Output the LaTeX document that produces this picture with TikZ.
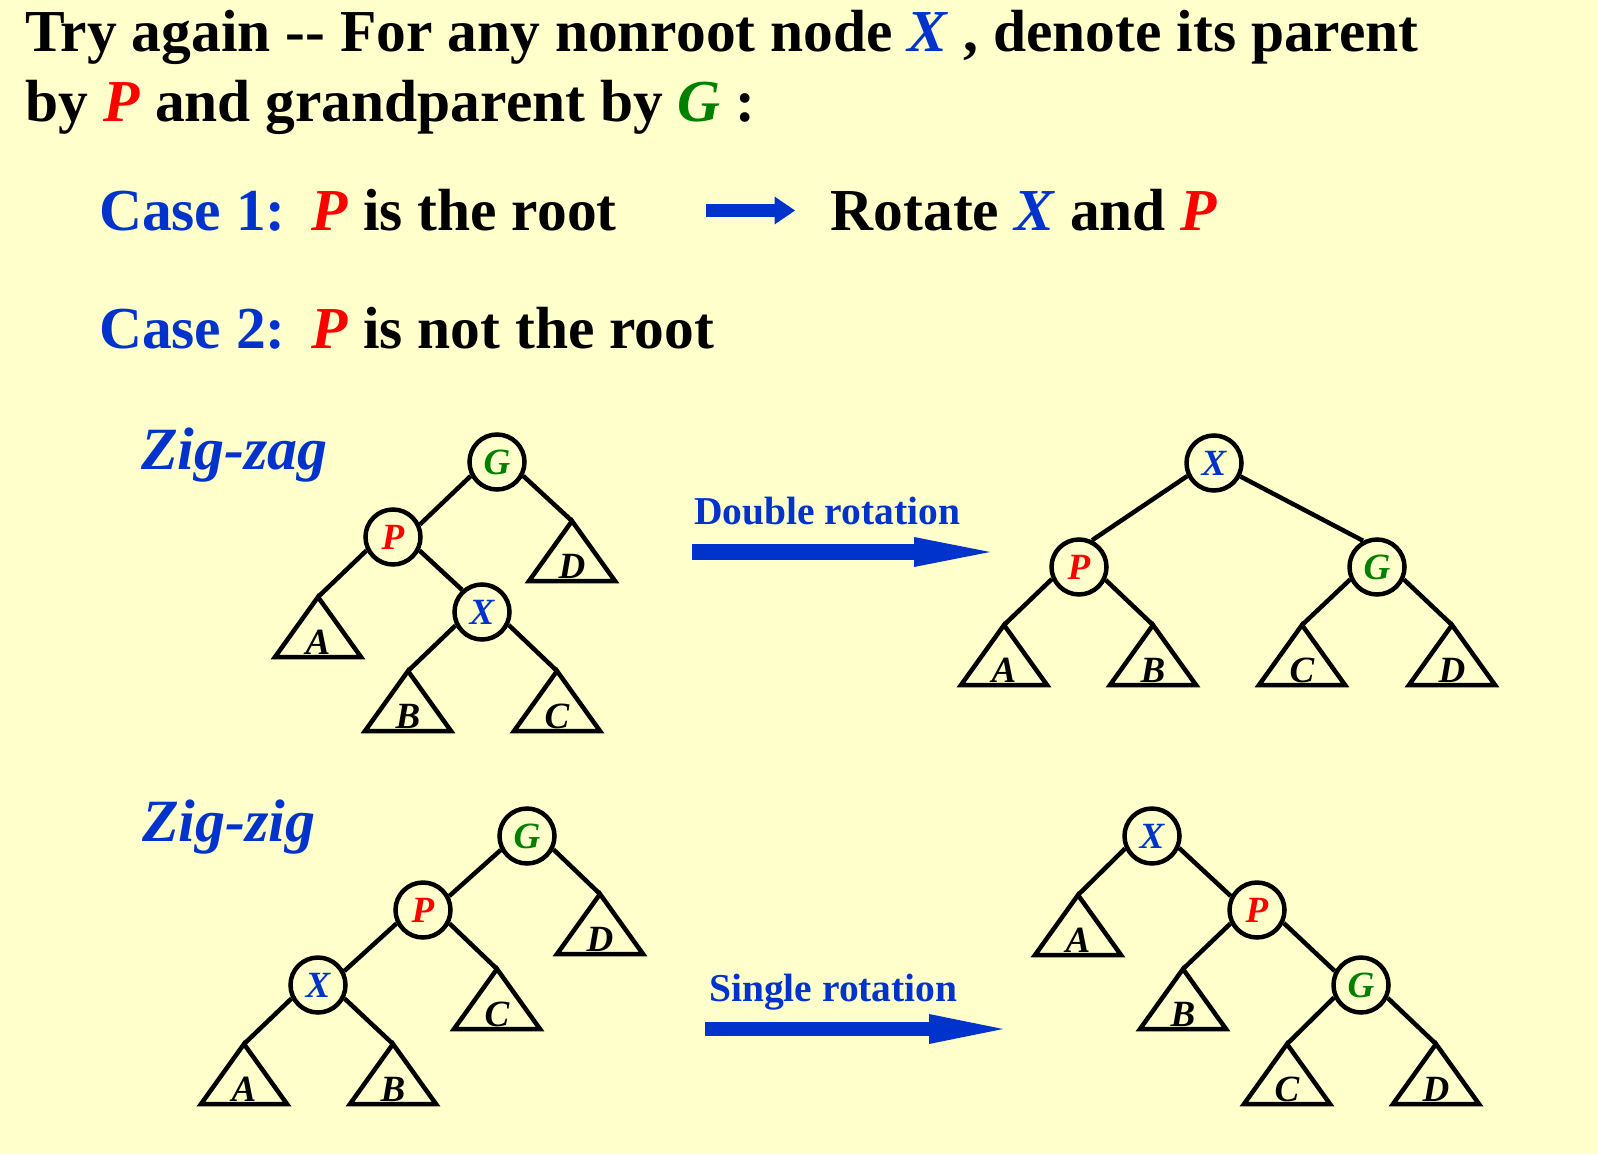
\documentclass[tikz,border=0pt]{standalone}
\usepackage{fontspec}
\setmainfont{Liberation Serif}
\usetikzlibrary{arrows.meta}

\definecolor{bgyellow}{RGB}{255,255,204}
\definecolor{xblue}{RGB}{0,51,204}
\definecolor{pred}{RGB}{255,0,0}
\definecolor{ggreen}{RGB}{0,128,0}

\newcommand{\lX}{\textcolor{xblue}{\textit{X}}}
\newcommand{\lP}{\textcolor{pred}{\textit{P}}}
\newcommand{\lG}{\textcolor{ggreen}{\textit{G}}}

\begin{document}
\begin{tikzpicture}[x=1pt,y=-1pt,
    txt/.style={anchor=base west,inner sep=0pt,font=\fontsize{59.5}{60}\selectfont\bfseries},
    side/.style={txt,text=xblue,font=\fontsize{60}{60}\selectfont\bfseries\itshape},
    rot/.style={anchor=base west,inner sep=0pt,text=xblue,font=\fontsize{39.5}{40}\selectfont\bfseries},
    vert/.style={circle,draw,line width=4.5pt,minimum size=55pt,inner sep=0pt,
                 font=\fontsize{37}{37}\selectfont\bfseries\itshape},
    leaf/.style={anchor=base,inner sep=0pt,font=\fontsize{37}{37}\selectfont\bfseries\itshape},
    tri/.style={draw,line width=4.5pt,line join=miter},
    br/.style={line width=4.5pt},
    flow/.style={xblue,-{Triangle[length=#1,width=30pt,line width=0pt]}}]

    \useasboundingbox (0,0) rectangle (1598,1154);
    \fill[bgyellow] (0,0) rectangle (1598,1154);

    % heading
    \node[txt] (l1) at (25.5,51.7) {Try again -{}- For any nonroot node \lX{} , denote its parent};
    \node[txt] (l2) at (25.5,121.7) {by \lP{} and grandparent by \lG{} :};

    \node[txt,text=xblue] (c1) at (98.9,230) {Case 1:};
    \node[txt] (c1t) at (311.5,230) {\lP{} is the root};
    \node[txt] (rotxp) at (830.7,230) {Rotate \lX{} and \lP};
    \coordinate (a1s) at (706,210.5);
    \coordinate (a1e) at (795,210.5);
    \draw[xblue,line width=12.7pt,-{Triangle[length=20.5pt,width=28pt,line width=0pt]}] (a1s) -- (a1e);

    \node[txt,text=xblue] (c2) at (98.9,348.3) {Case 2:};
    \node[txt] (c2t) at (311.5,348.3) {\lP{} is not the root};

    \node[side] (zz) at (141,469) {Zig-zag};
    \node[side] (zi) at (142,841.5) {Zig-zig};

    % subtrees
    \foreach \n/\x/\y/\l in {A1/318/597/A, B1/408/671/B, C1/557/671/C, D1/572/521/D,
                             A2/1004/625/A, B2/1153/625/B, C2/1302/625/C, D2/1452/625/D,
                             A3/244/1044/A, B3/393/1044/B, C3/497/969/C, D3/600/894/D,
                             A4/1078/895/A, B4/1183/969/B, C4/1287/1044/C, D4/1436/1044/D}{
        \coordinate (\n) at (\x,\y);
        \draw[tri] (\n) -- ++(-43,60) -- ++(86,0) -- cycle;
        \path (\n) ++(0,57.5) node[leaf] {\l};
    }

    % zig-zag
    \node[vert] (G1) at (497,462) {\color{ggreen}G};
    \node[vert] (P1) at (393,537) {\color{pred}P};
    \node[vert] (X1) at (482,612) {\color{xblue}X};
    \path[br]
    (G1.208) edge (P1.25)
    (G1.332) edge (D1)
    (P1.207) edge (A1)
    (P1.333) edge (X1.132)
    (X1.207) edge (B1)
    (X1.334) edge (C1);

    \node[rot] (dbl) at (694,524) {Double rotation};
    \coordinate (a2s) at (692,552);
    \coordinate (a2e) at (990,552);
    \draw[flow=76pt,line width=16pt] (a2s) -- (a2e);

    \node[vert] (X2) at (1214,463) {\color{xblue}X};
    \node[vert] (P2) at (1079,567) {\color{pred}P};
    \node[vert] (G2) at (1377,567) {\color{ggreen}G};
    \path[br]
    (X2.206) edge (P2.64)
    (X2.333) edge (G2.118)
    (P2.204) edge (A2)
    (P2.334) edge (B2)
    (G2.205) edge (C2)
    (G2.335) edge (D2);

    % zig-zig
    \node[vert] (G3) at (527,836) {\color{ggreen}G};
    \node[vert] (P3) at (423,910) {\color{pred}P};
    \node[vert] (X3) at (318,985) {\color{xblue}X};
    \path[br]
    (G3.208) edge (P3.28)
    (G3.333) edge (D3)
    (P3.207) edge (X3.28)
    (P3.333) edge (C3)
    (X3.207) edge (A3)
    (X3.333) edge (B3);

    \node[rot] (sgl) at (709,1001.7) {Single rotation};
    \coordinate (a3s) at (705,1029);
    \coordinate (a3e) at (1003,1029);
    \draw[flow=74pt,line width=14pt] (a3s) -- (a3e);

    \node[vert] (X4) at (1152,836) {\color{xblue}X};
    \node[vert] (P4) at (1257,910) {\color{pred}P};
    \node[vert] (G4) at (1361,985) {\color{ggreen}G};
    \path[br]
    (X4.205) edge (A4)
    (X4.336) edge (P4.152)
    (P4.207) edge (B4)
    (P4.334) edge (G4.152)
    (G4.205) edge (C4)
    (G4.334) edge (D4);
\end{tikzpicture}
\end{document}
